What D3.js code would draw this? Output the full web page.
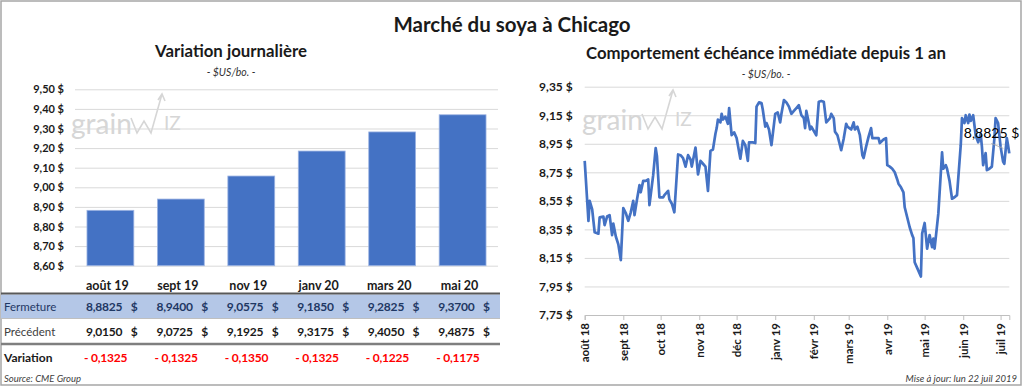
<!DOCTYPE html>
<html>
<head>
<meta charset="utf-8">
<script src="https://cdn.jsdelivr.net/npm/d3@7"></script>
<style>
  body { margin: 0; background: #fff; }
  svg { display: block; font-family: Lato, "Open Sans", sans-serif; }
</style>
</head>
<body>
<svg id="chart" width="1024" height="387"></svg>
<script>
// ---- data ----
var barCategories = ["août 19", "sept 19", "nov 19", "janv 20", "mars 20", "mai 20"];
var closeValues = [8.8825, 8.9400, 9.0575, 9.1850, 9.2825, 9.3700];
var previousValues = [9.0150, 9.0725, 9.1925, 9.3175, 9.4050, 9.4875];
var changeValues = [-0.1325, -0.1325, -0.1350, -0.1325, -0.1225, -0.1175];
var barTicks = [8.6, 8.7, 8.8, 8.9, 9.0, 9.1, 9.2, 9.3, 9.4, 9.5];

var lineTicks = [7.75, 7.95, 8.15, 8.35, 8.55, 8.75, 8.95, 9.15, 9.35];
var monthLabels = ["août 18", "sept 18", "oct 18", "nov 18", "déc 18", "janv 19",
  "févr 19", "mars 19", "avr 19", "mai 19", "juin 19", "juil 19"];

var lineDates = [
  "2018-08-01","2018-08-04","2018-08-05","2018-08-07","2018-08-09","2018-08-12","2018-08-13","2018-08-16",
  "2018-08-17","2018-08-19","2018-08-21","2018-08-23","2018-08-24","2018-08-26","2018-08-28","2018-08-30",
  "2018-09-01","2018-09-03","2018-09-05","2018-09-07","2018-09-09","2018-09-10","2018-09-12","2018-09-14",
  "2018-09-15","2018-09-17","2018-09-19","2018-09-21","2018-09-22","2018-09-25","2018-09-27","2018-09-28",
  "2018-09-30","2018-10-03","2018-10-04","2018-10-07","2018-10-08","2018-10-10","2018-10-12","2018-10-15",
  "2018-10-17","2018-10-19","2018-10-21","2018-10-23","2018-10-25","2018-10-26","2018-10-29","2018-10-30",
  "2018-10-31","2018-11-02","2018-11-04","2018-11-06","2018-11-08","2018-11-10","2018-11-12","2018-11-14",
  "2018-11-15","2018-11-16","2018-11-18","2018-11-19","2018-11-20","2018-11-22","2018-11-24","2018-11-25",
  "2018-11-27","2018-11-29","2018-12-01","2018-12-04","2018-12-06","2018-12-08","2018-12-10","2018-12-11",
  "2018-12-14","2018-12-16","2018-12-17","2018-12-19","2018-12-21","2018-12-22","2018-12-24","2018-12-25",
  "2018-12-27","2018-12-29","2019-01-01","2019-01-03","2019-01-05","2019-01-06","2019-01-08","2019-01-10",
  "2019-01-12","2019-01-14","2019-01-16","2019-01-18","2019-01-20","2019-01-22","2019-01-24","2019-01-25",
  "2019-01-26","2019-01-28","2019-01-29","2019-01-30","2019-02-03","2019-02-05","2019-02-07","2019-02-09",
  "2019-02-11","2019-02-14","2019-02-15","2019-02-17","2019-02-18","2019-02-20","2019-02-22","2019-02-23",
  "2019-02-25","2019-02-27","2019-02-28","2019-03-03","2019-03-05","2019-03-06","2019-03-08","2019-03-10",
  "2019-03-12","2019-03-13","2019-03-15","2019-03-17","2019-03-19","2019-03-20","2019-03-22","2019-03-25",
  "2019-03-26","2019-03-29","2019-03-31","2019-04-01","2019-04-03","2019-04-05","2019-04-07","2019-04-09",
  "2019-04-10","2019-04-12","2019-04-14","2019-04-15","2019-04-17","2019-04-19","2019-04-21","2019-04-22",
  "2019-04-23","2019-04-25","2019-04-28","2019-04-29","2019-05-01","2019-05-03","2019-05-05","2019-05-07",
  "2019-05-08","2019-05-09","2019-05-12","2019-05-15","2019-05-16","2019-05-18","2019-05-19","2019-05-21",
  "2019-05-23","2019-05-25","2019-05-27","2019-05-30","2019-05-31","2019-06-02","2019-06-03","2019-06-05",
  "2019-06-06","2019-06-07","2019-06-09","2019-06-11","2019-06-13","2019-06-15","2019-06-16","2019-06-17",
  "2019-06-19","2019-06-20","2019-06-22","2019-06-24","2019-06-26","2019-06-27","2019-06-29","2019-07-01",
  "2019-07-03","2019-07-04","2019-07-06","2019-07-07","2019-07-08"
];
var lineValues = [
  8.83, 8.41, 8.55, 8.49, 8.33, 8.32, 8.435, 8.44,
  8.38, 8.44, 8.45, 8.31, 8.39, 8.30, 8.245, 8.135,
  8.50, 8.465, 8.41, 8.47, 8.55, 8.45, 8.56, 8.66,
  8.61, 8.69, 8.69, 8.70, 8.52, 8.73, 8.92, 8.865,
  8.575, 8.575, 8.59, 8.62, 8.56, 8.53, 8.47, 8.875,
  8.87, 8.85, 8.79, 8.87, 8.84, 8.79, 8.923, 8.83,
  8.735, 8.83, 8.81, 8.79, 8.62, 8.90, 8.91, 9.02,
  9.06, 9.12, 9.10, 9.16, 9.12, 9.14, 9.09, 9.20,
  9.01, 9.03, 8.99, 8.845, 8.97, 8.94, 8.83, 8.96,
  8.96, 8.955, 9.21, 9.24, 9.235, 9.19, 9.07, 9.095,
  9.05, 8.94, 9.16, 9.17, 9.10, 9.16, 9.256, 9.24,
  9.21, 9.16, 9.18, 9.20, 9.22, 9.15, 9.13, 9.06,
  9.18, 9.095, 9.05, 9.07, 9.01, 9.245, 9.25, 9.245,
  9.10, 9.13, 9.16, 9.13, 9.035, 9.01, 8.94, 8.905,
  8.985, 9.09, 9.07, 9.05, 9.10, 9.05, 9.07, 9.01,
  8.87, 8.85, 8.93, 9.00, 9.06, 8.99, 8.99, 8.99,
  8.955, 8.98, 8.99, 8.80, 8.79, 8.775, 8.75, 8.70,
  8.67, 8.645, 8.61, 8.505, 8.435, 8.365, 8.31, 8.29,
  8.12, 8.08, 8.02, 8.32, 8.395, 8.215, 8.31, 8.225,
  8.285, 8.215, 8.46, 8.89, 8.775, 8.80, 8.775, 8.69,
  8.565, 8.575, 8.59, 8.94, 9.13, 9.095, 9.15, 9.095,
  9.155, 9.11, 9.15, 9.01, 8.96, 9.02, 8.93, 8.80,
  8.885, 8.765, 8.775, 8.79, 8.985, 9.13, 9.095, 8.93,
  8.825, 8.81, 8.99, 8.94, 8.8825
];

// ---- helpers ----
var svg = d3.select("#chart");
var parseDate = d3.timeParse("%Y-%m-%d");
var dollars = v => v.toFixed(2).replace(".", ",") + " $";
var four = v => v.toFixed(4).replace(".", ",");
var blue = "#4472c4", grid = "#d9d9d9", ink = "#1a1a1a";

svg.append("rect")
  .attr("x", 1).attr("y", 1).attr("width", 1020).attr("height", 384)
  .attr("fill", "#fff").attr("stroke", "#a6a6a6").attr("stroke-width", 1.5);

svg.append("text")
  .attr("x", 512).attr("y", 32).attr("text-anchor", "middle")
  .attr("font-size", 20.5).attr("font-weight", "bold").attr("fill", ink)
  .text("Marché du soya à Chicago");

function logo(x, base) {
  var g = svg.append("g").attr("transform", "translate(" + x + "," + base + ")");
  g.append("text").attr("font-size", 28).attr("fill", "#d6d6d6").text("grain");
  g.append("path")
    .attr("d", "M60,-16 L66,-1 L73,-13 L80,-1 L91,-40 M87,-34 L91,-40 L94,-33")
    .attr("fill", "none").attr("stroke", "#d6d6d6").attr("stroke-width", 1.6);
  g.append("text").attr("x", 93).attr("y", -4).attr("font-size", 19)
    .attr("fill", "#d6d6d6").text("IZ");
}

function subtitle(cx, y, title) {
  svg.append("text").attr("x", cx).attr("y", y).attr("text-anchor", "middle")
    .attr("font-size", 16.8).attr("font-weight", "bold").attr("fill", ink).text(title);
  svg.append("text").attr("x", cx).attr("y", y + 19).attr("text-anchor", "middle")
    .attr("font-size", 10.5).attr("font-style", "italic").attr("fill", "#333").text("- $US/bo. -");
}

function styleGrid(g) {
  g.select(".domain").remove();
  g.selectAll(".tick line").attr("stroke", grid);
  g.selectAll(".tick text").attr("fill", ink).attr("font-weight", "bold");
}

// ---- left: daily variation bars ----
subtitle(231, 57, "Variation journalière");
logo(71, 134);

var xb = d3.scaleBand().domain(barCategories).range([75, 498])
  .paddingInner(0.335).paddingOuter(0.17);
var yb = d3.scaleLinear().domain([8.6, 9.5]).range([265.7, 89.3]);

svg.append("g")
  .attr("transform", "translate(75,0)")
  .call(d3.axisLeft(yb).tickValues(barTicks).tickSize(-423).tickPadding(11).tickFormat(dollars))
  .attr("font-family", null).attr("font-size", 11)
  .call(styleGrid);

svg.append("g").selectAll("rect")
  .data(closeValues)
  .join("rect")
  .attr("x", (d, i) => xb(barCategories[i]))
  .attr("y", d => yb(d))
  .attr("width", xb.bandwidth())
  .attr("height", d => yb(8.6) - yb(d))
  .attr("fill", blue)
  .attr("stroke", "#9db4e3").attr("stroke-width", 0.8);

// ---- table under the bars ----
var bw = xb.bandwidth();
svg.append("rect").attr("x", 1).attr("y", 294.5).attr("width", 499).attr("height", 24)
  .attr("fill", "#b4c7e7");
svg.append("line").attr("x1", 1).attr("x2", 500).attr("y1", 293.5).attr("y2", 293.5)
  .attr("stroke", "#595959").attr("stroke-width", 2);
svg.append("line").attr("x1", 1).attr("x2", 500).attr("y1", 318.5).attr("y2", 318.5)
  .attr("stroke", "#bfbfbf").attr("stroke-width", 1);
svg.append("line").attr("x1", 1).attr("x2", 500).attr("y1", 344).attr("y2", 344)
  .attr("stroke", "#7f7f7f").attr("stroke-width", 2.5);

svg.append("g").selectAll("text")
  .data(barCategories)
  .join("text")
  .attr("x", d => xb(d) + bw / 2 - 3)
  .attr("y", 290)
  .attr("text-anchor", "middle")
  .attr("font-size", 12.5).attr("font-weight", "bold").attr("fill", ink)
  .text(d => d);

var rows = [
  {label: "Fermeture", values: closeValues, y: 310.5, color: "#1f3864", labelColor: "#1f3864", labelWeight: "normal"},
  {label: "Précédent", values: previousValues, y: 335.5, color: ink, labelColor: "#404040", labelWeight: "normal"}
];
rows.forEach(function(r) {
  svg.append("text").attr("x", 4).attr("y", r.y).attr("font-size", 11.5)
    .attr("font-weight", r.labelWeight).attr("fill", r.labelColor).text(r.label);
  var g = svg.append("g").attr("font-size", 12).attr("font-weight", "bold").attr("fill", r.color);
  g.selectAll(".num").data(r.values).join("text").attr("class", "num")
    .attr("x", (d, i) => xb(barCategories[i]) - 1).attr("y", r.y)
    .attr("letter-spacing", -0.2)
    .text(d => four(d));
  g.selectAll(".cur").data(r.values).join("text").attr("class", "cur")
    .attr("x", (d, i) => xb(barCategories[i]) + bw + 4).attr("y", r.y)
    .attr("text-anchor", "end")
    .text("$");
});

svg.append("text").attr("x", 4).attr("y", 362).attr("font-size", 12)
  .attr("font-weight", "bold").attr("fill", ink).text("Variation");
svg.append("g").selectAll("text")
  .data(changeValues)
  .join("text")
  .attr("x", (d, i) => xb(barCategories[i]) - 3).attr("y", 362)
  .attr("font-size", 12).attr("font-weight", "bold").attr("fill", "#ff0000")
  .attr("letter-spacing", -0.2)
  .text(d => (d < 0 ? "- " : "+ ") + four(Math.abs(d)));

svg.append("text").attr("x", 4).attr("y", 382).attr("font-size", 9.5)
  .attr("font-style", "italic").attr("fill", "#404040").text("Source: CME Group");

// ---- right: front month over one year ----
subtitle(766, 59, "Comportement échéance immédiate depuis 1 an");
logo(582, 130);

var series = lineDates.map((d, i) => ({date: parseDate(d), value: lineValues[i]}));
var xl = d3.scaleTime()
  .domain([parseDate("2018-08-01"), parseDate("2019-07-08")])
  .range([584.7, 1009.3]);
var yl = d3.scaleLinear().domain([7.75, 9.35]).range([315, 86.7]);
var monthDates = d3.timeMonth.range(parseDate("2018-08-01"), parseDate("2019-07-02"));

svg.append("g")
  .attr("transform", "translate(584.7,0)")
  .call(d3.axisLeft(yl).tickValues(lineTicks).tickSize(-424.6).tickPadding(12).tickFormat(dollars))
  .attr("font-family", null).attr("font-size", 12)
  .call(styleGrid)
  .call(g => g.selectAll(".tick").filter(d => d === 7.75).select("line").remove());

svg.append("g")
  .attr("transform", "translate(0,315)")
  .call(d3.axisBottom(xl).tickValues(monthDates).tickSize(5).tickFormat((d, i) => monthLabels[i]))
  .attr("font-family", null).attr("font-size", 11.5)
  .call(g => g.select(".domain").attr("stroke", "#bfbfbf"))
  .call(g => g.selectAll(".tick line").attr("stroke", "#bfbfbf"))
  .call(g => g.selectAll(".tick text")
    .attr("fill", ink).attr("font-weight", "bold")
    .attr("transform", "rotate(-90)")
    .attr("x", -8).attr("y", 0).attr("dy", "0.35em")
    .style("text-anchor", "end"));

svg.append("path")
  .datum(series)
  .attr("fill", "none")
  .attr("stroke", blue)
  .attr("stroke-width", 2.7)
  .attr("stroke-linejoin", "round")
  .attr("d", d3.line().x(d => xl(d.date)).y(d => yl(d.value)));

var last = series[series.length - 1];
var lx = xl(last.date), ly = yl(last.value);
svg.append("line")
  .attr("x1", lx - 18).attr("y1", ly - 10).attr("x2", lx - 6).attr("y2", ly - 5)
  .attr("stroke", "#a6a6a6").attr("stroke-width", 0.8);
svg.append("text")
  .attr("x", lx + 10).attr("y", ly - 15).attr("text-anchor", "end")
  .attr("font-size", 14).attr("fill", "#000")
  .text(four(last.value) + " $");

svg.append("text").attr("x", 1017).attr("y", 382).attr("text-anchor", "end")
  .attr("font-size", 9.5).attr("font-style", "italic").attr("fill", "#404040")
  .text("Mise à jour: lun 22 juil 2019");
</script>
</body>
</html>
